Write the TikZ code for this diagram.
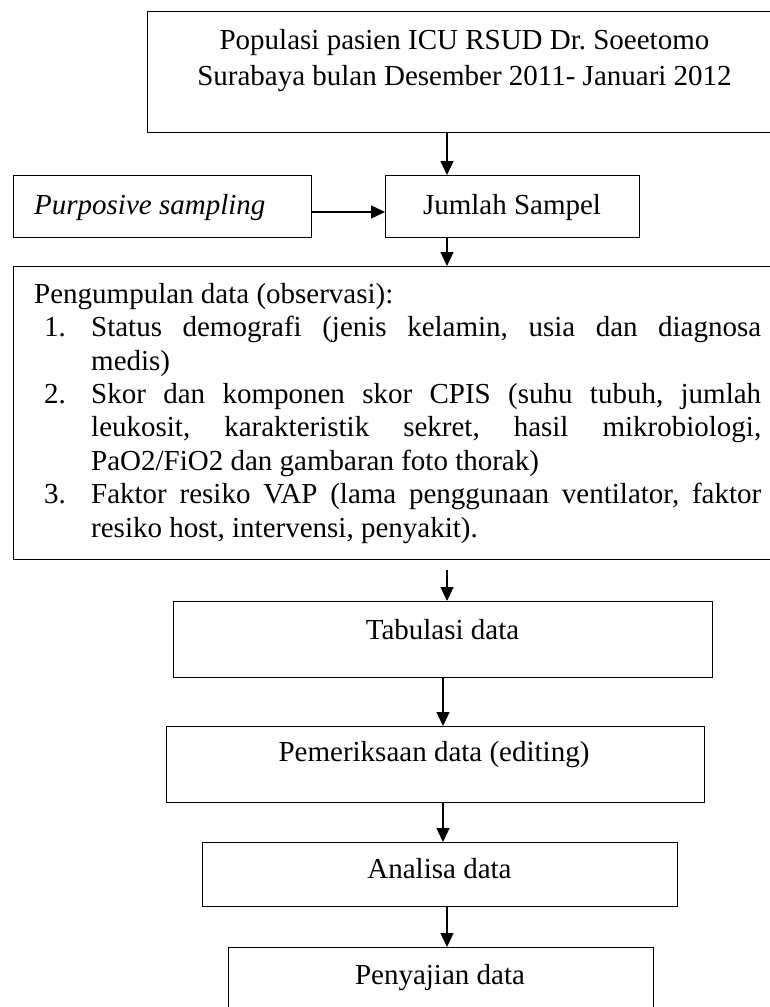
\documentclass[tikz,border=0pt]{standalone}
\usepackage{fontspec}
\setmainfont{Liberation Serif}
\usetikzlibrary{arrows.meta}
\tikzset{
  box/.style={draw, line width=1.3pt, inner sep=0pt, anchor=north west},
  arr/.style={line width=1.3pt, -{Triangle[length=14pt,width=13pt]}},
  txt/.style={anchor=base, inner sep=0pt, font=\fontsize{29pt}{33.4pt}\selectfont},
}
\begin{document}
\begin{tikzpicture}[x=1pt,y=-1pt]
\useasboundingbox (0,0) rectangle (770,1007);
\fill[white] (0,0) rectangle (770,1007);
\clip (0,0) rectangle (770,1007);
\frenchspacing
% boxes
\node[box, minimum width=635pt, minimum height=121pt] (pop) at (147,11) {};
\node[txt] (popa) at (464.5,49) {Populasi pasien ICU RSUD Dr.\ Soeetomo};
\node[txt] (popb) at (464.5,85) {Surabaya bulan Desember 2011- Januari 2012};

\node[box, minimum width=298pt, minimum height=62pt] (purp) at (13,175) {};
\node[txt, anchor=base west] (purpt) at (34,214) {\itshape Purposive sampling};

\node[box, minimum width=254pt, minimum height=62pt] (jml) at (385,175) {};
\node[txt] (jmlt) at (512,214) {Jumlah Sampel};

\node[box, minimum width=780pt, minimum height=293pt] (obs) at (13,266) {};
\node[anchor=north west, inner sep=0pt, font=\fontsize{29pt}{33.4pt}\selectfont] (obst) at (34,281) {\parbox[t]{727pt}{%
\frenchspacing\tolerance=10000 \hyphenpenalty=10000
\rule{0pt}{22pt}Pengumpulan data (observasi):\par
\leftskip=57pt
\noindent\llap{\makebox[47pt][l]{1.}}Status demografi (jenis kelamin, usia dan diagnosa\linebreak medis)\par
\noindent\llap{\makebox[47pt][l]{2.}}Skor dan komponen skor CPIS (suhu tubuh, jumlah\linebreak leukosit, karakteristik sekret, hasil mikrobiologi,\linebreak PaO2/FiO2 dan gambaran foto thorak)\par
\noindent\llap{\makebox[47pt][l]{3.}}Faktor resiko VAP (lama penggunaan ventilator, faktor\linebreak resiko host, intervensi, penyakit).\par}};

\node[box, minimum width=539pt, minimum height=76pt] (tab) at (173,601) {};
\node[txt] (tabt) at (442.5,639) {Tabulasi data};

\node[box, minimum width=538pt, minimum height=76pt] (pem) at (166,726) {};
\node[txt] (pemt) at (434,761) {Pemeriksaan data (editing)};

\node[box, minimum width=475pt, minimum height=64pt] (ana) at (202,842) {};
\node[txt] (anat) at (439.5,878) {Analisa data};

\node[box, minimum width=425pt, minimum height=80pt] (pen) at (228,947) {};
\node[txt] (pent) at (440,984) {Penyajian data};

% connectors
\coordinate (xa) at (447,0);
\coordinate (xb) at (443,0);
\coordinate (ya) at (0,212);
\coordinate (s1) at (447,570);
\draw[arr] (pop.south -| xa) -- (jml.north -| xa);
\draw[arr] (purp.east |- ya) -- (jml.west |- ya);
\draw[arr] (jml.south -| xa) -- (obs.north -| xa);
\draw[arr] (s1) -- (tab.north -| s1);
\draw[arr] (tab.south -| xb) -- (pem.north -| xb);
\draw[arr] (pem.south -| xb) -- (ana.north -| xb);
\draw[arr] (ana.south -| xa) -- (pen.north -| xa);
\end{tikzpicture}
\end{document}
